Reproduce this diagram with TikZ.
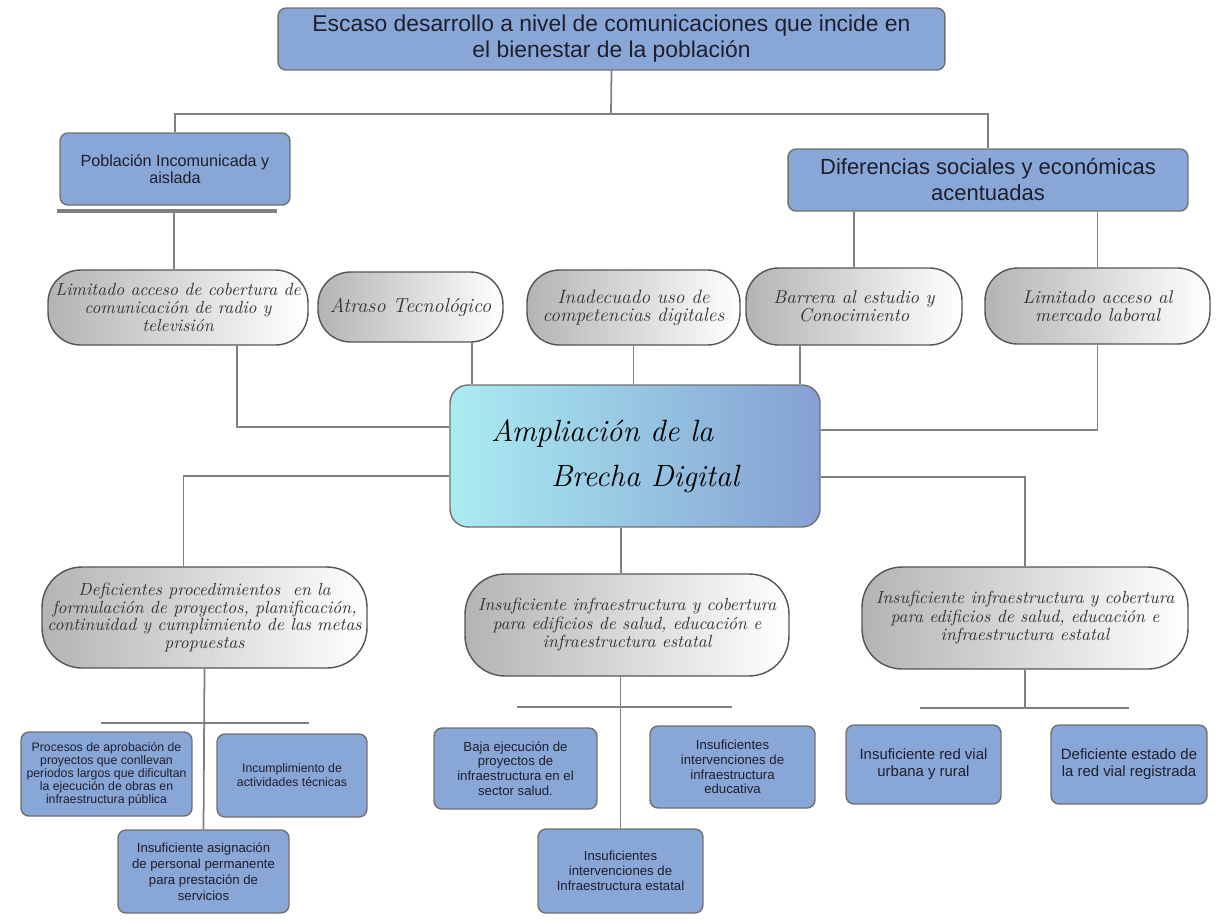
\documentclass[tikz,border=0pt]{standalone}
\usepackage{fontspec}
\setsansfont{Liberation Sans}
\usepackage{tikz}
\usetikzlibrary{positioning}

\definecolor{boxblue}{RGB}{137,167,214}
\definecolor{boxedge}{RGB}{112,112,112}
\definecolor{pillgray}{RGB}{180,180,180}
\definecolor{pilledge}{RGB}{85,85,85}
\definecolor{coreleft}{RGB}{170,236,242}
\definecolor{coreright}{RGB}{132,160,210}
\definecolor{linegray}{RGB}{128,128,128}
\definecolor{inkdark}{RGB}{30,30,45}

\tikzset {
    style A/.style={
        fill=boxblue,
        draw=boxedge,
        thick,
        rectangle, % Set the shape as a rectangle
        rounded corners=.16cm,
        inner sep=0pt,
        text=inkdark,
        align=center,
    },
    style B/.style={
        left color=pillgray,
        right color=white,
        draw=pilledge,
        thick,
        rectangle, % Set the shape as a rectangle
        rounded corners=.65cm,
        inner sep=0pt,
        text=black!80,
        align=center,
    },
    style C/.style={
        left color=coreleft,
        right color=coreright,
        draw=boxedge,
        thick,
        rectangle, % Set the shape as a rectangle
        rounded corners=.36cm,
        inner sep=0pt,
        text=black,
        align=left,
    },
    link/.style={draw=linegray, line width=1pt},
}

\begin{document}
\begin{tikzpicture}
[x=0.02cm, y=-0.02cm]

\useasboundingbox (0,0) rectangle (1227,921);

% top level
\node [style A, minimum width=13.34cm, minimum height=1.24cm,
  font=\sffamily\fontsize{13}{14.8}\selectfont] (top) at (611.5,39)
  {Escaso desarrollo a nivel de comunicaciones que incide en\\el bienestar de la población};
\node [style A, minimum width=4.6cm, minimum height=1.44cm,
  font=\sffamily\fontsize{9.2}{9.8}\selectfont] (pob) at (175,169)
  {Población Incomunicada y\\aislada};
\node [style A, minimum width=8cm, minimum height=1.24cm,
  font=\sffamily\fontsize{12.5}{14.8}\selectfont] (dif) at (988,180)
  {Diferencias sociales y económicas\\acentuadas};

% causes row
\node [style B, minimum width=5.2cm, minimum height=1.5cm,
  font=\itshape\fontsize{10}{10.5}\selectfont] (lim) at (178,307.5)
  {Limitado acceso de cobertura de\\comunicación de radio y\\televisión};
\node [style B, minimum width=3.7cm, minimum height=1.4cm,
  font=\itshape\fontsize{11.5}{12}\selectfont] (atr) at (410.5,307)
  {Atraso Tecnológico};
\node [style B, minimum width=4.26cm, minimum height=1.5cm,
  font=\itshape\fontsize{11}{10}\selectfont] (inad) at (633.5,307.5)
  {Inadecuado uso de\\competencias digitales};
\node [style B, minimum width=4.32cm, minimum height=1.54cm,
  font=\itshape\fontsize{10.5}{10.5}\selectfont] (barr) at (854,306.5)
  {Barrera al estudio y\\Conocimiento};
\node [style B, minimum width=4.5cm, minimum height=1.52cm,
  font=\itshape\fontsize{10.5}{10.5}\selectfont] (merc) at (1097.5,306)
  {Limitado acceso al\\mercado laboral};

% core problem
\node [style C, minimum width=7.4cm, minimum height=2.84cm,
  font=\itshape\fontsize{17.5}{26}\selectfont] (core) at (635,456)
  {Ampliación de la\\\hspace*{1.2cm}Brecha Digital\hspace*{0.8cm}};

% effects row
\node [style B, rounded corners=.8cm, minimum width=6.5cm, minimum height=2.02cm,
  font=\itshape\fontsize{10}{10}\selectfont] (defi) at (204.5,617.5)
  {Deficientes procedimientos\ \ en la\\formulación de proyectos, planificación,\\continuidad y cumplimiento de las metas\\propuestas};
\node [style B, rounded corners=.8cm, minimum width=6.48cm, minimum height=2.04cm,
  font=\itshape\fontsize{10}{10.5}\selectfont] (infra1) at (627,625)
  {Insuficiente infraestructura y cobertura\\para edificios de salud, educación e\\infraestructura estatal};
\node [style B, rounded corners=.8cm, minimum width=6.52cm, minimum height=2.04cm,
  font=\itshape\fontsize{10}{10.5}\selectfont] (infra2) at (1025,618)
  {Insuficiente infraestructura y cobertura\\para edificios de salud, educación e\\infraestructura estatal};

% bottom boxes
\node [style A, minimum width=3.42cm, minimum height=1.68cm,
  font=\sffamily\fontsize{7}{7.4}\selectfont] (proc) at (106.5,774)
  {Procesos de aprobación de\\proyectos que conllevan\\periodos largos que dificultan\\la ejecución de obras en\\infraestructura pública};
\node [style A, minimum width=3cm, minimum height=1.66cm,
  font=\sffamily\fontsize{7}{8}\selectfont] (incu) at (292,775.5)
  {Incumplimiento de\\actividades técnicas};
\node [style A, minimum width=3.42cm, minimum height=1.66cm,
  font=\sffamily\fontsize{7.5}{9}\selectfont] (asig) at (203.5,871.5)
  {Insuficiente asignación\\de personal permanente\\para prestación de\\servicios};
\node [style A, minimum width=3.26cm, minimum height=1.62cm,
  font=\sffamily\fontsize{7.5}{8.4}\selectfont] (baja) at (515.5,768.5)
  {Baja ejecución de\\proyectos de\\infraestructura en el\\sector salud.};
\node [style A, minimum width=3.3cm, minimum height=1.64cm,
  font=\sffamily\fontsize{7.5}{8.4}\selectfont] (educ) at (732.5,767)
  {Insuficientes\\intervenciones de\\infraestructura\\educativa};
\node [style A, minimum width=3.3cm, minimum height=1.68cm,
  font=\sffamily\fontsize{7.5}{8.4}\selectfont] (estat) at (620.5,871)
  {Insuficientes\\intervenciones de\\Infraestructura estatal};
\node [style A, minimum width=3.1cm, minimum height=1.58cm,
  font=\sffamily\fontsize{8.5}{9.8}\selectfont] (vial) at (923.5,764.5)
  {Insuficiente red vial\\urbana y rural};
\node [style A, minimum width=3.12cm, minimum height=1.58cm,
  font=\sffamily\fontsize{8.5}{9.8}\selectfont] (regi) at (1129,764.5)
  {Deficiente estado de\\la red vial registrada};

% junctions
\coordinate (topjoin) at (611,114);
\coordinate (pobjoin) at (174,211);
\coordinate (pobbarL) at (57,211);
\coordinate (pobbarR) at (277,211);
\coordinate (barAL) at (101,723);
\coordinate (barAR) at (309,723);
\coordinate (barBL) at (517,707);
\coordinate (barBR) at (732,707);
\coordinate (barCL) at (920,708);
\coordinate (barCR) at (1129,708);

% connectors
\draw[link] (top.south) -- (topjoin);
\draw[link] (pob.north) |- (topjoin) -| (dif.north);
\draw[link, line width=1.8pt] (pobbarL) -- (pobbarR);
\draw[link] (pobjoin) -- (pobjoin |- lim.north);
\draw[link] (barr.north |- dif.south) -- (barr.north);
\draw[link] (merc.north |- dif.south) -- (merc.north);
\draw[link] ([xshift=1.18cm]lim.south) |- ([yshift=0.58cm]core.west);
\draw[link] ([xshift=1.23cm]atr.south) -- ([xshift=1.23cm]atr.south |- core.north);
\draw[link] (inad.south) -- (inad.south |- core.north);
\draw[link] ([xshift=-1.08cm]barr.south) -- ([xshift=-1.08cm]barr.south |- core.north);
\draw[link] (merc.south) |- ([yshift=0.52cm]core.east);
\draw[link] ([yshift=-0.4cm]core.west) -| ([xshift=-0.42cm]defi.north);
\draw[link] ([xshift=-0.28cm]core.south) -- ([xshift=-0.28cm]core.south |- infra1.north);
\draw[link] ([yshift=-0.42cm]core.east) -| (infra2.north);
\draw[link] (defi.south) -- (asig.north);
\draw[link] (barAL) -- (barAR);
\draw[link] (estat.north |- infra1.south) -- (estat.north);
\draw[link] (barBL) -- (barBR);
\draw[link] (infra2.south) -- (infra2.south |- barCL);
\draw[link] (barCL) -- (barCR);

\end{tikzpicture}
\end{document}
